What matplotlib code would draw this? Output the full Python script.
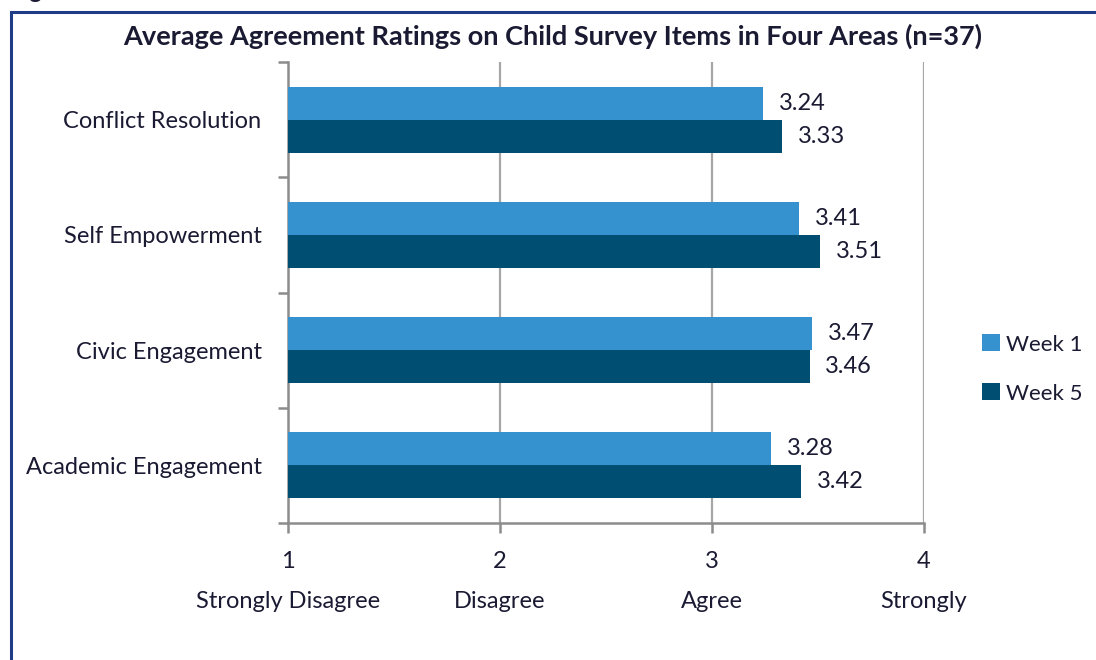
import matplotlib
matplotlib.use("Agg")
import matplotlib.pyplot as plt
from matplotlib.patches import Rectangle
import numpy as np

categories = ["Conflict Resolution", "Self Empowerment", "Civic Engagement", "Academic Engagement"]
week1 = [3.24, 3.41, 3.47, 3.28]
week5 = [3.33, 3.51, 3.46, 3.42]
series_names = ["Week 1", "Week 5"]
x_ticks = [1, 2, 3, 4]
x_tick_labels = ["1\n\nStrongly Disagree", "2\n\nDisagree", "3\n\nAgree", "4\n\nStrongly"]
title = "Average Agreement Ratings on Child Survey Items in Four Areas (n=37)"

plt.rcParams['font.family'] = ['Lato', 'DejaVu Sans']

C1 = "#3592CE"
C5 = "#004E72"
TXT = "#1a1a33"
GRAY = "#8c8c8c"
FS = 17

fig = plt.figure(figsize=(10.96, 6.6), dpi=100)
W, H = 1096, 660

# figure border (clipped at right/bottom)
fig.patches.append(Rectangle((10.5 / W, -0.05), 1.2, 1 - 11.5 / H + 0.05,
                             transform=fig.transFigure, fill=False,
                             edgecolor="#1f3c88", linewidth=2.2, zorder=0))
fig.text(10 / W, 1 + 1.5 / H, "Figure", fontsize=17, fontweight="bold",
         color=TXT, ha="left", va="baseline")

ax = fig.add_axes([288 / W, 1 - 523 / H, (924 - 288) / W, (523 - 62) / H])

y = np.arange(len(categories))
h = 0.287
ax.barh(y - h / 2, [v - 1 for v in week1], left=1, height=h, color=C1, label=series_names[0], zorder=3)
ax.barh(y + h / 2, [v - 1 for v in week5], left=1, height=h, color=C5, label=series_names[1], zorder=3)

for yi, v in zip(y, week1):
    ax.text(v + 0.075, yi - h / 2, f"{v:.2f}", va="center", ha="left", fontsize=FS, color=TXT)
for yi, v in zip(y, week5):
    ax.text(v + 0.075, yi + h / 2, f"{v:.2f}", va="center", ha="left", fontsize=FS, color=TXT)

ax.set_xlim(1, 4)
ax.set_ylim(3.5, -0.5)

ax.set_xticks(x_ticks)
ax.set_xticklabels(x_tick_labels, fontsize=FS, color=TXT, linespacing=0.95)
ax.tick_params(axis="x", direction="out", length=7, width=1.8, color=GRAY, pad=13)

ax.set_yticks(y)
ax.set_yticklabels(categories, fontsize=FS, color=TXT)
ax.set_yticks(np.arange(-0.5, len(categories), 1.0), minor=True)
ax.tick_params(axis="y", which="major", length=0, pad=19)
ax.tick_params(axis="y", which="minor", direction="out", length=7, width=1.8, color=GRAY)

for xv in [2, 3, 4]:
    ax.axvline(xv, color="#a6a6a6", linewidth=1.6, zorder=1)

for s in ["top", "right"]:
    ax.spines[s].set_visible(False)
for s in ["left", "bottom"]:
    ax.spines[s].set_color(GRAY)
    ax.spines[s].set_linewidth(1.8)

fig.text(553 / W, 1 - 36 / H, title, fontsize=19.5, fontweight="bold", color=TXT,
         ha="center", va="center")

leg = fig.legend(loc="center left", bbox_to_anchor=(982 / W, 1 - 369 / H),
                 frameon=False, fontsize=16, handlelength=0.8, handleheight=0.8,
                 handletextpad=0.3, labelspacing=1.3, labelcolor=TXT,
                 borderpad=0, borderaxespad=0)

fig.savefig("out.png", dpi=100)
